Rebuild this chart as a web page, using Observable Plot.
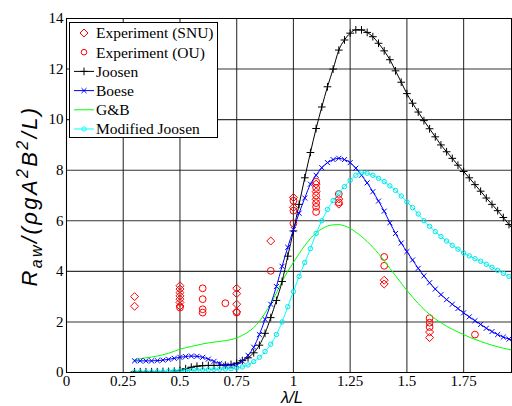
<!DOCTYPE html>
<html><head><meta charset="utf-8">
<script src="https://cdn.jsdelivr.net/npm/d3@7"></script>
<script src="https://cdn.jsdelivr.net/npm/@observablehq/plot@0.6"></script>
<style>html,body{margin:0;padding:0;background:#fff}svg{display:block}</style>
</head><body><div id="chart"></div>
<script>
// wavelength ratio lambda/L sampled along the computed curves
const lambda = [0.3,0.325,0.35,0.375,0.4,0.425,0.45,0.475,0.5,0.525,0.55,0.575,0.6,0.625,0.65,0.675,0.7,0.725,0.75,0.775,0.8,0.825,0.85,0.875,0.9,0.925,0.95,0.975,
  1,1.025,1.05,1.075,1.1,1.125,1.15,1.175,1.2,1.225,1.25,1.275,1.3,1.325,1.35,1.375,1.4,1.425,1.45,1.475,1.5,1.525,1.55,1.575,1.6,1.625,1.65,1.675,1.7,1.725,1.75,1.775,1.8,1.825,1.85,1.875,1.9,1.925,1.95,1.975];
const joosen = [0.03,0.03,0.03,0.03,0.03,0.04,0.04,0.05,0.08,0.15,0.21,0.25,0.27,0.28,0.28,0.28,0.29,0.32,0.37,0.47,0.58,0.78,1.08,1.55,2.17,2.85,3.6,4.6,
  5.6,6.65,7.7,8.7,9.65,10.5,11.3,12.0,12.75,13.15,13.42,13.55,13.55,13.45,13.28,13.02,12.72,12.37,11.93,11.48,11.03,10.65,10.3,9.96,9.64,9.32,9.0,8.73,8.47,8.2,7.95,7.7,7.43,7.17,6.9,6.65,6.4,6.13,5.85,5.6];
const boese = [0.46,0.46,0.46,0.46,0.47,0.49,0.52,0.56,0.6,0.63,0.65,0.64,0.6,0.53,0.44,0.35,0.29,0.26,0.3,0.45,0.68,1.0,1.5,2.1,2.7,3.4,4.2,4.95,
  5.65,6.3,6.9,7.45,7.8,8.1,8.3,8.42,8.47,8.42,8.3,8.08,7.8,7.5,7.15,6.78,6.38,5.92,5.5,5.12,4.78,4.45,4.12,3.82,3.55,3.3,3.08,2.88,2.7,2.53,2.36,2.2,2.05,1.9,1.75,1.62,1.5,1.4,1.32,1.25];
const gb = [0.5,0.55,0.58,0.61,0.65,0.7,0.76,0.84,0.92,0.98,1.03,1.08,1.13,1.17,1.2,1.23,1.26,1.3,1.37,1.47,1.6,1.78,2.02,2.35,2.72,3.15,3.6,4.0,
  4.35,4.7,5.02,5.3,5.52,5.68,5.79,5.84,5.85,5.8,5.7,5.55,5.38,5.18,4.95,4.7,4.42,4.12,3.83,3.53,3.25,2.98,2.73,2.5,2.3,2.12,1.97,1.83,1.71,1.6,1.5,1.4,1.31,1.23,1.15,1.08,1.02,0.96,0.91,0.86];
const modJoosen = [0.02,0.02,0.02,0.02,0.03,0.03,0.04,0.05,0.06,0.07,0.08,0.09,0.1,0.11,0.12,0.13,0.14,0.15,0.18,0.22,0.3,0.43,0.6,0.83,1.12,1.5,2.0,2.6,
  3.2,3.8,4.35,4.9,5.5,6.0,6.45,6.8,7.1,7.35,7.6,7.8,7.9,7.88,7.8,7.68,7.55,7.38,7.2,6.98,6.75,6.52,6.27,6.0,5.78,5.57,5.38,5.2,5.03,4.88,4.73,4.61,4.5,4.4,4.28,4.16,4.04,3.92,3.8,3.68];

// experiments
const snuX = [0.3,0.3,0.5,0.5,0.5,0.5,0.5,0.5,0.5,0.75,0.75,0.75,0.75,0.9,1.0,1.0,1.1,1.1,1.1,1.2,1.2,1.4,1.4,1.6,1.6];
const snuY = [3.0,2.62,3.43,3.3,3.16,3.03,2.9,2.77,2.63,3.33,3.12,2.7,2.4,5.2,6.92,6.53,7.45,7.15,6.85,6.86,6.66,3.65,3.5,1.6,1.38];
const ouX = [0.5,0.6,0.6,0.6,0.6,0.7,0.75,0.9,1.0,1.0,1.0,1.1,1.1,1.1,1.1,1.1,1.1,1.2,1.2,1.4,1.4,1.6,1.6,1.6,1.8];
const ouY = [2.57,3.33,2.9,2.5,2.37,2.74,2.37,4.02,6.79,6.4,5.9,7.55,7.3,7.0,6.7,6.55,6.35,7.06,6.73,4.57,4.22,2.15,1.97,1.8,1.5];

const xTicks = [0,0.25,0.5,0.75,1,1.25,1.5,1.75];
const xTickLabels = ["0","0.25","0.5","0.75","1","1.25","1.5","1.75"];
const yTicks = [0,2,4,6,8,10,12,14];
const yTickLabels = ["0","2","4","6","8","10","12","14"];

const legendLabels = ["Experiment (SNU)","Experiment (OU)","Joosen","Boese","G&B","Modified Joosen"];
const legendColors = ["#ff0000","#ff0000","#000000","#0000ff","#00ff00","#00ffff"];
const legendSymbols = ["diamond2","circle","plus","times",null,"circle"];
const legendLines = [false,false,true,true,true,true];

const curve = (ys) => lambda.map((x, i) => ({x, y: ys[i]}));
const pts = (xs, ys) => xs.map((x, i) => ({x, y: ys[i]}));
const serif = "Liberation Serif, Times New Roman, serif";
const sans = "Liberation Sans, Arial, sans-serif";

const chart = Plot.plot({
  width: 512, height: 406,
  marginLeft: 66, marginRight: 1, marginTop: 18, marginBottom: 34,
  style: {background: "white", fontFamily: serif, fontSize: "15px", color: "black"},
  x: {domain: [0, 1.961]},
  y: {domain: [0, 14]},
  marks: [
    Plot.gridX(xTicks, {stroke: "#111", strokeOpacity: 0.85, strokeWidth: 1.1}),
    Plot.gridY(yTicks, {stroke: "#111", strokeOpacity: 0.85, strokeWidth: 1.1}),
    Plot.axisX(xTicks, {tickSize: 0, tickPadding: 3, fontSize: 15, fontFamily: serif, label: null,
      tickFormat: d => xTickLabels[xTicks.indexOf(d)]}),
    Plot.axisY(yTicks, {tickSize: 0, tickPadding: 3, fontSize: 15, fontFamily: serif, label: null,
      tickFormat: d => yTickLabels[yTicks.indexOf(d)]}),
    Plot.dot(pts(snuX, snuY), {x: "x", y: "y", symbol: "diamond2", r: 3.6, stroke: "#ff0000", strokeWidth: 1, clip: true}),
    Plot.dot(pts(ouX, ouY), {x: "x", y: "y", symbol: "circle", r: 3.4, stroke: "#ff0000", fill: "none", strokeWidth: 1, clip: true}),
    Plot.line(curve(gb), {x: "x", y: "y", stroke: "#00ff00", strokeWidth: 1, curve: "monotone-x", clip: true}),
    Plot.line(curve(joosen), {x: "x", y: "y", stroke: "#000", strokeWidth: 1, curve: "monotone-x", clip: true}),
    Plot.dot(curve(joosen), {x: "x", y: "y", symbol: "plus", r: 2.6, stroke: "#000", strokeWidth: 1, clip: true}),
    Plot.line(curve(boese), {x: "x", y: "y", stroke: "#0000ff", strokeWidth: 1, curve: "monotone-x", clip: true}),
    Plot.dot(curve(boese), {x: "x", y: "y", symbol: "times", r: 2.4, stroke: "#0000ff", strokeWidth: 1, clip: true}),
    Plot.line(curve(modJoosen), {x: "x", y: "y", stroke: "#00ffff", strokeWidth: 1, curve: "monotone-x", clip: true}),
    Plot.dot(curve(modJoosen), {x: "x", y: "y", symbol: "circle", r: 2.2, stroke: "#00e5e5", fill: "none", strokeWidth: 1, clip: true}),
    Plot.frame({stroke: "black", strokeWidth: 1})
  ]
});
document.getElementById("chart").appendChild(chart);

const svg = d3.select(chart);
// y axis label
const yl = svg.append("text")
  .attr("transform", "translate(37,196) rotate(-90)")
  .attr("text-anchor", "middle")
  .attr("font-family", sans).attr("font-style", "italic").attr("font-size", 22)
  .attr("letter-spacing", 2.4).attr("fill", "black");
yl.append("tspan").text("R");
yl.append("tspan").attr("font-size", 16).attr("dy", 5).text("aw");
yl.append("tspan").attr("dy", -5).text("/(ρgA");
yl.append("tspan").attr("font-size", 16).attr("dy", -9).text("2");
yl.append("tspan").attr("dy", 9).text("B");
yl.append("tspan").attr("font-size", 16).attr("dy", -9).text("2");
yl.append("tspan").attr("dy", 9).text("/L)");
// x axis label
svg.append("text").attr("x", 292).attr("y", 403).attr("text-anchor", "middle")
  .attr("font-family", sans).attr("font-style", "italic").attr("font-size", 16.5).attr("fill", "black")
  .text("λ/L");

// legend
const lg = svg.append("g");
lg.append("rect").attr("x", 69.5).attr("y", 22.5).attr("width", 148).attr("height", 115)
  .attr("fill", "white").attr("stroke", "black");
const symMap = {diamond2: d3.symbolDiamond2, circle: d3.symbolCircle, plus: d3.symbolPlus, times: d3.symbolTimes};
const symR = {diamond2: 3.6, circle: 2.8, plus: 2.6, times: 2.4};
legendLabels.forEach((lab, i) => {
  const cy = 33 + i * 19.2;
  if (legendLines[i]) lg.append("line").attr("x1", 74).attr("x2", 94).attr("y1", cy).attr("y2", cy)
    .attr("stroke", legendColors[i]).attr("stroke-width", 1);
  const s = legendSymbols[i];
  if (s) {
    const r = (i === 5) ? 2.2 : symR[s];
    lg.append("path").attr("d", d3.symbol(symMap[s], Math.PI * r * r)())
      .attr("transform", `translate(84,${cy})`).attr("fill", "none")
      .attr("stroke", legendColors[i]).attr("stroke-width", 1);
  }
  lg.append("text").attr("x", 96).attr("y", cy).attr("dy", "0.35em").attr("text-anchor", "start")
    .attr("font-family", serif).attr("font-size", 15.5).attr("fill", "black").text(lab);
});
</script>
</body></html>
